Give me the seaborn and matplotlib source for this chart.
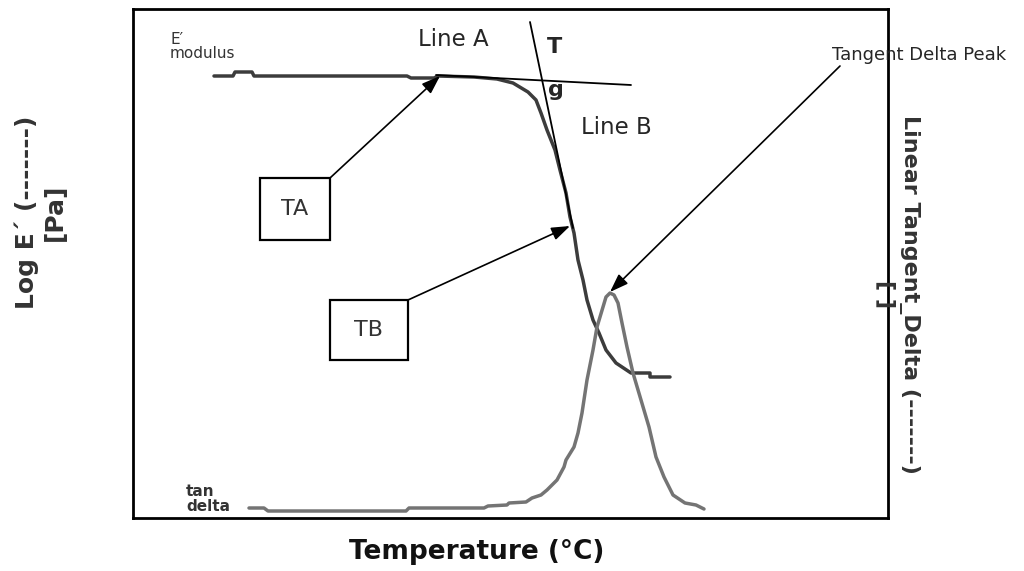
import matplotlib
matplotlib.use("Agg")
import matplotlib.pyplot as plt
import seaborn as sns
import pandas as pd
from matplotlib.patches import Rectangle

# Storage modulus curve (temperature, log E' in arbitrary units)
e_temp = [16.2, 20.0, 20.4, 23.8, 24.2, 54.8, 55.6, 60.2, 61.0, 68.2, 72.8, 76.0,
          79.0, 80.6, 81.6, 82.8, 84.4, 85.4, 86.6, 87.4, 88.2, 89.0, 90.0, 90.8,
          92.0, 93.2, 94.6, 96.6, 99.6, 103.4, 103.4, 107.4]
e_mod = [88.4, 88.4, 89.2, 89.2, 88.4, 88.4, 88.0, 88.0, 88.4, 88.2, 87.8, 87.0,
         85.2, 83.6, 81.0, 77.6, 73.6, 69.6, 65.0, 60.2, 57.0, 51.6, 47.6, 43.6,
         39.6, 37.0, 33.6, 31.0, 29.0, 29.0, 28.2, 28.2]

# Tan delta curve
td_temp = [23.2, 26.2, 27.0, 54.6, 55.2, 70.2, 71.0, 74.8, 75.2, 78.6, 79.8, 81.6,
           82.8, 84.8, 86.2, 86.6, 88.2, 89.0, 89.8, 90.8, 92.0, 92.8, 94.0, 94.6,
           95.4, 96.2, 97.0, 97.8, 98.8, 100.0, 101.6, 103.2, 104.6, 106.2, 108.0,
           110.4, 112.6, 114.2]
td_val = [2.0, 2.0, 1.4, 1.4, 2.0, 2.0, 2.4, 2.6, 3.0, 3.2, 4.0, 4.6,
          5.6, 7.6, 10.2, 11.6, 14.2, 17.0, 21.0, 27.6, 33.6, 38.2, 42.2, 44.2,
          45.0, 44.6, 43.0, 39.0, 34.2, 29.0, 23.6, 18.2, 12.2, 8.2, 4.6,
          3.0, 2.6, 1.8]

# Tangent construction lines
line_a_temp = [60.6, 99.6]
line_a_val = [88.6, 86.6]
line_b_temp = [79.4, 88.0]
line_b_val = [99.2, 58.0]

e_df = pd.DataFrame({"temp": e_temp, "val": e_mod})
td_df = pd.DataFrame({"temp": td_temp, "val": td_val})

sns.set_style("white")
plt.rcParams["font.family"] = ["DejaVu Sans"]

fig = plt.figure(figsize=(10.24, 5.71), dpi=100)
ax = fig.add_axes([133 / 1024, 53 / 571, 755 / 1024, 509 / 571])

sns.lineplot(data=e_df, x="temp", y="val", ax=ax, color="#3c3c3c", lw=2.5,
             estimator=None, sort=False)
sns.lineplot(data=td_df, x="temp", y="val", ax=ax, color="#747474", lw=2.5,
             estimator=None, sort=False)
ax.plot(line_a_temp, line_a_val, color="black", lw=1.3)
ax.plot(line_b_temp, line_b_val, color="black", lw=1.3)

ax.set_xlim(0, 151)
ax.set_ylim(0, 101.8)
ax.set_xticks([])
ax.set_yticks([])
ax.set_xlabel("")
ax.set_ylabel("")
for sp in ax.spines.values():
    sp.set_visible(True)
    sp.set_color("black")
    sp.set_linewidth(2)

# text labels
ax.text(7.4, 94.3, "E\u2032\nmodulus", fontsize=11, color="#333333",
        ha="left", va="center", linespacing=0.95)
ax.text(57.0, 95.6, "Line A", fontsize=16.5, ha="left", va="center")
ax.text(82.8, 94.2, "T", fontsize=16, fontweight="bold", ha="left", va="center")
ax.text(83.0, 85.6, "g", fontsize=16, fontweight="bold", ha="left", va="center")
ax.text(89.6, 78.0, "Line B", fontsize=16.5, ha="left", va="center")
ax.text(157.2, 92.6, "Tangent Delta Peak", fontsize=13, ha="center", va="center",
        clip_on=False)
ax.text(10.6, 3.8, "tan\ndelta", fontsize=11, fontweight="bold", color="#333333",
        ha="left", va="center", linespacing=0.95)

# boxes
ax.add_patch(Rectangle((25.4, 55.6), 14, 12.4, fill=False, ec="black", lw=1.6))
ax.text(32.4, 61.8, "TA", fontsize=16, color="#333333", ha="center", va="center")
ax.add_patch(Rectangle((39.4, 31.6), 15.6, 12, fill=False, ec="black", lw=1.6))
ax.text(47.2, 37.6, "TB", fontsize=16, color="#333333", ha="center", va="center")

arrow = dict(arrowstyle="-|>,head_length=0.7,head_width=0.25", color="black",
             lw=1.2, shrinkA=0, shrinkB=0, mutation_scale=16)
ax.annotate("", xy=(61.4, 88.4), xytext=(39.4, 68.0), arrowprops=arrow)
ax.annotate("", xy=(87.4, 58.4), xytext=(55.0, 43.6), arrowprops=arrow)
ax.annotate("", xy=(95.4, 45.2), xytext=(141.4, 90.4), arrowprops=arrow)

# axis titles
fig.text(477 / 1024, 1 - 552 / 571, "Temperature (\u00b0C)", fontsize=19,
         fontweight="bold", ha="center", va="center", color="#111111")
fig.text(41 / 1024, 1 - 212 / 571, "Log E\u00b4 (-------)\n[Pa]", fontsize=18,
         fontweight="bold", rotation=90, ha="center", va="center",
         color="#333333", multialignment="center")
fig.text(898 / 1024, 1 - 294 / 571, "Linear Tangent_Delta (-------)\n[ ]",
         fontsize=16, fontweight="bold", rotation=-90, ha="center", va="center",
         color="#333333", multialignment="center")

fig.savefig("out.png", dpi=100)
